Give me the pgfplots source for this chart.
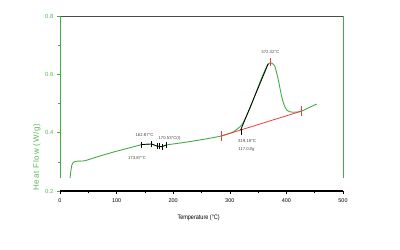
\documentclass[border=0pt]{standalone}
\usepackage{fontspec}
\setmainfont{Liberation Sans}
\newfontfamily\spaced[LetterSpace=10]{Liberation Sans}
\usepackage{graphicx}
\usepackage{pgfplots}
\pgfplotsset{compat=1.18}
\definecolor{cgreen}{RGB}{70,170,70}
\definecolor{cred}{RGB}{240,60,60}
\definecolor{lblgreen}{RGB}{90,180,90}
\definecolor{anngray}{RGB}{70,70,70}
\begin{document}
\begin{tikzpicture}
\path[use as bounding box] (-60bp,-59bp) rectangle (340bp,191bp);
\begin{axis}[
  at={(0,0)}, anchor=south west,
  scale only axis, width=283bp, height=175bp,
  xmin=0, xmax=500, ymin=0.2, ymax=0.8,
  clip=false,
  xtick={0,100,...,500}, minor xtick={50,150,...,450},
  ytick={0.2,0.4,0.6,0.8}, minor ytick={0.3,0.5,0.7},
  yticklabel style={/pgf/number format/fixed,/pgf/number format/precision=1},
  /pgf/number format/assume math mode=true,
  tick pos=left, tick align=outside,
  major tick length=3bp, minor tick length=2bp,
  axis line style={draw=none},
  x tick style={black, line width=0.6bp},
  y tick style={cgreen, line width=0.6bp},
  xticklabel style={font=\fontsize{5.5}{6}\selectfont, text=black, yshift=-1bp},
  yticklabel style={font=\fontsize{6}{7}\selectfont, text=lblgreen},
  xlabel={\scalebox{0.85}[1]{Temperature (°C)}},
  xlabel style={at={(axis description cs:0.49,-0.154)}, anchor=center, font=\fontsize{6.5}{7}\selectfont},
  ylabel={Heat Flow (W/g)},
  ylabel style={at={(axis description cs:-0.082,0.194)}, anchor=center, font=\spaced\fontsize{8}{9}\selectfont, text=lblgreen},
]
% frame
\draw[black!70, line width=0.8bp] (rel axis cs:0,1) -- (rel axis cs:1,1);
\draw[cgreen, line width=0.8bp] (rel axis cs:0,0.074) -- (rel axis cs:0,1);
\draw[cgreen, line width=0.8bp] (rel axis cs:1,0.074) -- (rel axis cs:1,1);
\draw[black, line width=1.3bp] (rel axis cs:0,0) -- (rel axis cs:1,0);

% green DSC curve
\addplot[cgreen, line width=0.9bp, smooth, tension=0.4] coordinates {
(17.7,0.244) (19.2,0.268) (20.7,0.287) (23.5,0.298) (29.5,0.302) (44,0.304)
(67.1,0.318) (97.2,0.335) (126.7,0.350) (144.9,0.359) (162,0.361)
(170.9,0.354) (179.7,0.352) (188.5,0.358) (217.8,0.366) (253.2,0.377)
(285.7,0.389) (306.2,0.403) (321,0.426) (328,0.452) (335,0.481)
(344.5,0.529) (356.9,0.591) (365.7,0.629) (369,0.637) (372.3,0.640)
(376,0.636) (379.9,0.626) (385.7,0.581) (391.7,0.523) (396,0.495)
(400.5,0.478) (406,0.472) (412.2,0.470) (420,0.471) (427,0.474)
(440,0.486) (453.5,0.498)
};
% baseline
\addplot[cred, line width=0.8bp] coordinates {(285.7,0.389) (427,0.474)};
% onset tangent
\addplot[black, line width=0.8bp] coordinates {(319.2,0.409) (368,0.637)};
% partial black segment
\addplot[black, line width=0.7bp] coordinates {(143,0.359) (162,0.361) (171,0.354) (180,0.352) (188.5,0.358)};
% ticks on curve
\addplot[only marks, mark=|, mark size=3bp, black, mark options={line width=0.5bp}] coordinates {
(143,0.359) (162,0.361) (172,0.354) (176,0.353) (181,0.352) (188.5,0.358) (321,0.404)};
\addplot[only marks, mark=|, mark size=5bp, cred, mark options={line width=0.6bp}] coordinates {(285.7,0.389) (427,0.474)};
\addplot[only marks, mark=|, mark size=4bp, cred, mark options={line width=0.6bp}] coordinates {(372.3,0.642)};

% annotations
\begin{scope}[every node/.style={font=\fontsize{4.3}{5}\selectfont, text=anngray, inner sep=0pt}]
\node at (axis cs:371.6,0.676) {372.32°C};
\node at (axis cs:149.3,0.392) {162.87°C};
\node at (axis cs:193.5,0.381) {170.53°C(I)};
\node at (axis cs:136,0.313) {173.87°C};
\node at (axis cs:330.4,0.372) {319.18°C};
\node at (axis cs:329.5,0.341) {117.0J/g};
\end{scope}
\end{axis}
\end{tikzpicture}
\end{document}
